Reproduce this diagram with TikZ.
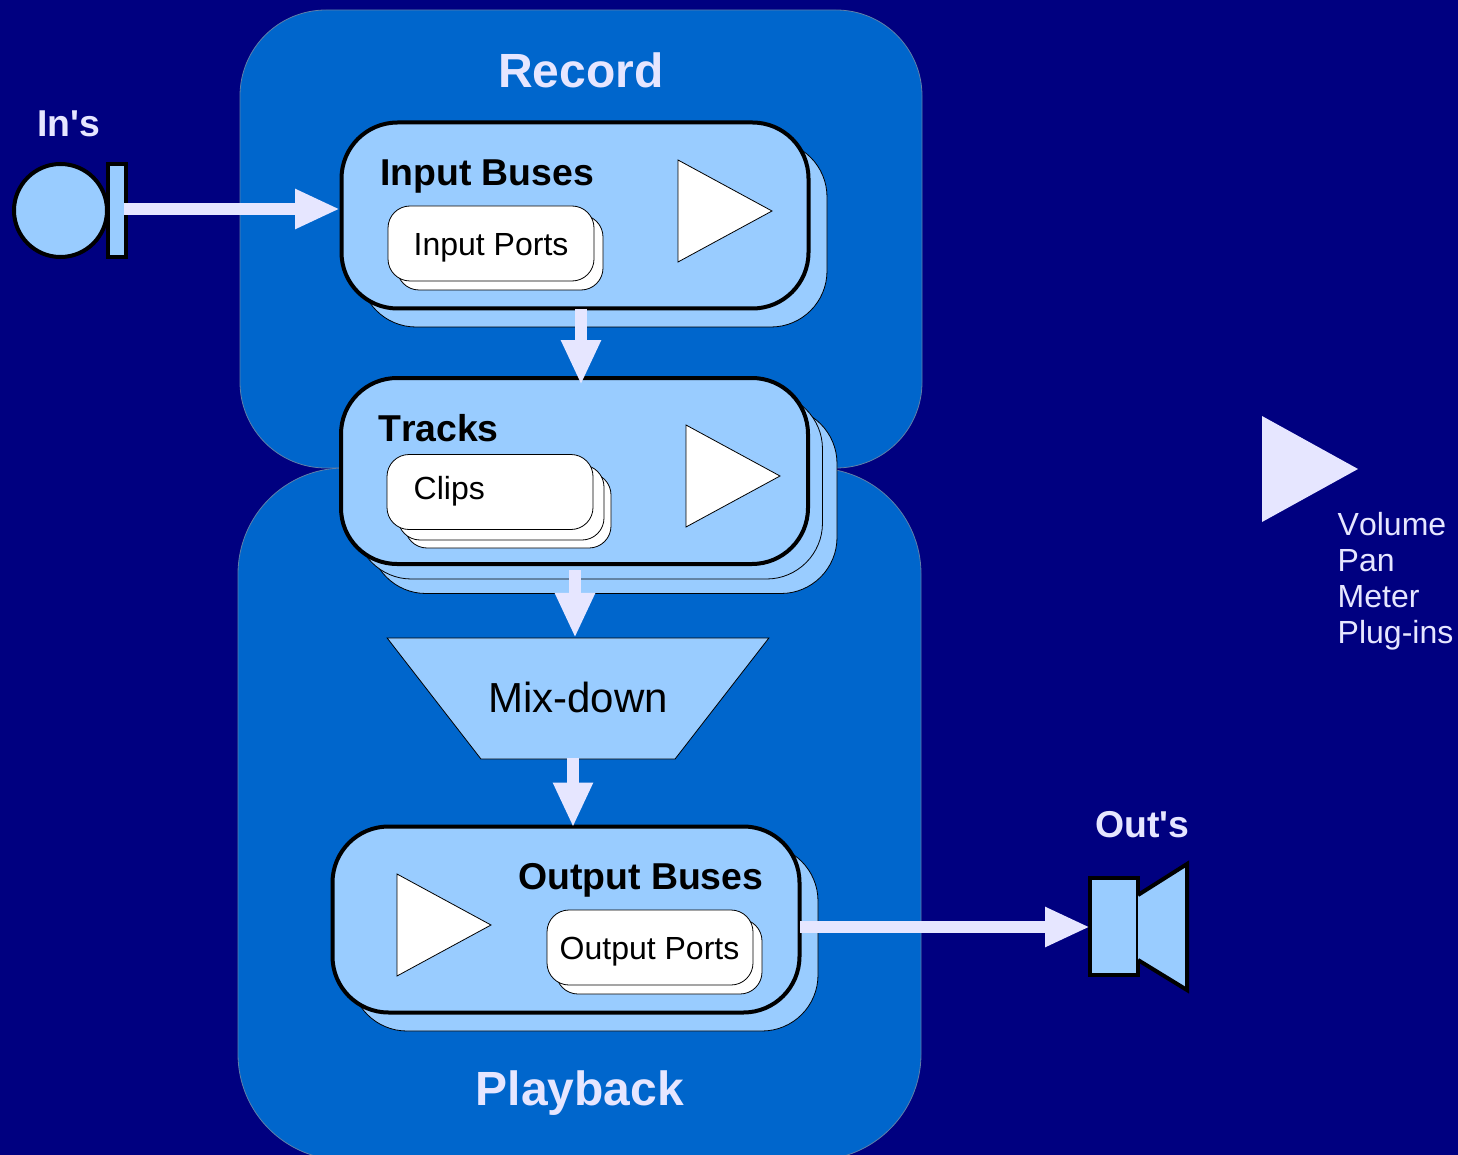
\documentclass[tikz,border=0pt]{standalone}
\usepackage{fontspec}
\setmainfont[Ligatures=TeXOff,Kerning=Off]{Liberation Sans}
\usetikzlibrary{arrows.meta,shapes.geometric}
\definecolor{navybg}{HTML}{000080}
\definecolor{panelblue}{HTML}{0066CC}
\definecolor{busblue}{HTML}{99CCFF}
\definecolor{palelilac}{HTML}{E6E6FF}
\definecolor{panelline}{HTML}{5F7FA8}
\tikzset{
	panel/.style = {rectangle, draw=panelline, fill=panelblue, line width=0.8pt, inner sep=0pt, outer sep=0pt},
	bus/.style = {rectangle, draw=black, fill=busblue, line width=4pt, rounded corners=56pt, minimum width=467pt, minimum height=186pt, inner sep=0pt, outer sep=0pt},
	busshadow/.style = {bus, line width=0.8pt},
	port/.style = {rectangle, draw=black, fill=white, line width=0.8pt, rounded corners=22pt, minimum width=206pt, minimum height=75pt, inner sep=0pt, outer sep=0pt},
	play/.style = {isosceles triangle, isosceles triangle stretches, minimum width=102pt, minimum height=94pt, inner sep=0pt, outer sep=0pt, anchor=lower side, draw=black, fill=white, line width=0.8pt},
	part/.style = {draw=black, fill=busblue, line width=4pt, inner sep=0pt, outer sep=0pt},
	flow/.style = {draw=palelilac, line width=12pt, -{Triangle[width=37pt,length=45pt]}},
	title/.style = {text=palelilac, font=\bfseries\fontsize{48}{50}\selectfont, anchor=base, inner sep=0pt},
	iolabel/.style = {text=palelilac, font=\bfseries\fontsize{37.4}{40}\selectfont, anchor=base west, inner sep=0pt},
	buslabel/.style = {text=black, font=\bfseries\fontsize{37.4}{40}\selectfont, anchor=base west, inner sep=0pt},
	portlabel/.style = {text=black, font=\fontsize{32}{36}\selectfont, anchor=base west, inner sep=0pt},
	sidelabel/.style = {text=palelilac, font=\fontsize{32}{36}\selectfont, anchor=base west, inner sep=0pt}
}
\begin{document}
\begin{tikzpicture}[x=1pt,y=-1pt]
	\useasboundingbox (0,0) rectangle (1458,1155);
	\fill[navybg] (0,0) rectangle (1458,1155);
	\begin{scope}
		\clip (0,0) rectangle (1458,1155);
		\node[panel, rounded corners=86pt, minimum width=682pt, minimum height=458pt] (record) at (581,239) {};
		\node[panel, rounded corners=106pt, minimum width=683pt, minimum height=692pt] (playback) at (579.5,814) {};
	\end{scope}
	\node[title] (recordlabel) at (581,88) {Record};
	\node[title] (playbacklabel) at (580,1105) {Playback};

	% in's
	\node[part, circle, minimum size=93pt] (insrc) at (60.5,210.5) {};
	\node[part, rectangle, minimum width=18pt, minimum height=93pt] (inbar) at (117,210.5) {};
	\node[iolabel] (inlabel) at (37,137) {In's};

	% record side
	\node[busshadow] (inbusback) at (593.5,234) {};
	\node[bus] (inbus) at (575,215.5) {};
	\node[buslabel] (inbuslabel) at (380,185.5) {Input Buses};
	\node[port] (inportback) at (500,252.5) {};
	\node[port] (inport) at (491,243.5) {};
	\node[portlabel] (inportlabel) at (413.5,256) {Input Ports};
	\node[play] (inplay) at (678,211) {};

	% tracks
	\node[busshadow] (tracksbackb) at (603.5,500.5) {};
	\node[busshadow] (tracksbacka) at (589,486) {};
	\node[bus] (tracks) at (574.5,471) {};
	\node[buslabel] (trackslabel) at (378,441) {Tracks};
	\node[port] (clipsbackb) at (508,510.5) {};
	\node[port] (clipsbacka) at (501,502.5) {};
	\node[port] (clips) at (490,492) {};
	\node[portlabel] (clipslabel) at (413.5,499) {Clips};
	\node[play] (tracksplay) at (686,476) {};

	% mix-down
	\node[trapezium, trapezium stretches, trapezium angle=64.2, shape border rotate=180, minimum width=382pt, minimum height=121pt, inner sep=0pt, outer sep=0pt, draw=black, fill=busblue, line width=0.8pt] (mix) at (578,698.5) {\phantom{\rule{20pt}{20pt}}};
	\node[text=black, font=\fontsize{42}{46}\selectfont, anchor=base west, inner sep=0pt] (mixlabel) at (488,712) {Mix-down};

	% playback side
	\node[busshadow] (outbusback) at (584.5,938) {};
	\node[bus] (outbus) at (566,919.5) {};
	\node[buslabel] (outbuslabel) at (518,889) {Output Buses};
	\node[port] (outportback) at (659,956.5) {};
	\node[port] (outport) at (650,947.5) {};
	\node[portlabel] (outportlabel) at (559.5,959) {Output Ports};
	\node[play] (outplay) at (397,925) {};

	% out's
	\node[part, rectangle, minimum width=48pt, minimum height=97pt] (spkbox) at (1114,926.5) {};
	\draw[part, line join=miter] (1138,895) -- (1187,864) -- (1187,990) -- (1138,960);
	\node[iolabel] (outlabel) at (1095,837) {Out's};

	% legend
	\node[play, draw=none, fill=palelilac, minimum width=106pt, minimum height=96pt] (sideplay) at (1262,469) {};
	\node[sidelabel] (volume) at (1337.5,535) {Volume};
	\node[sidelabel] (pan) at (1337.5,571) {Pan};
	\node[sidelabel] (meter) at (1337.5,607) {Meter};
	\node[sidelabel] (plugins) at (1337.5,643) {Plug-ins};

	% connectors
	\coordinate (inlevel) at (124,209);
	\coordinate (trackout) at (575,570);
	\coordinate (mixout) at (573,758);
	\coordinate (outlevel) at (800,927);
	\coordinate (buslevel) at (581,309);
	\draw[flow, shorten >=1.5pt] (inlevel) -- (inbus.west |- inlevel);
	\draw[flow, shorten >=-7pt] (buslevel) -- (buslevel |- tracks.north);
	\draw[flow] (trackout) -- (trackout |- mix.north);
	\draw[flow, shorten >=-1pt] (mixout) -- (mixout |- outbus.north);
	\draw[flow] (outlevel) -- (spkbox.west |- outlevel);
\end{tikzpicture}
\end{document}
